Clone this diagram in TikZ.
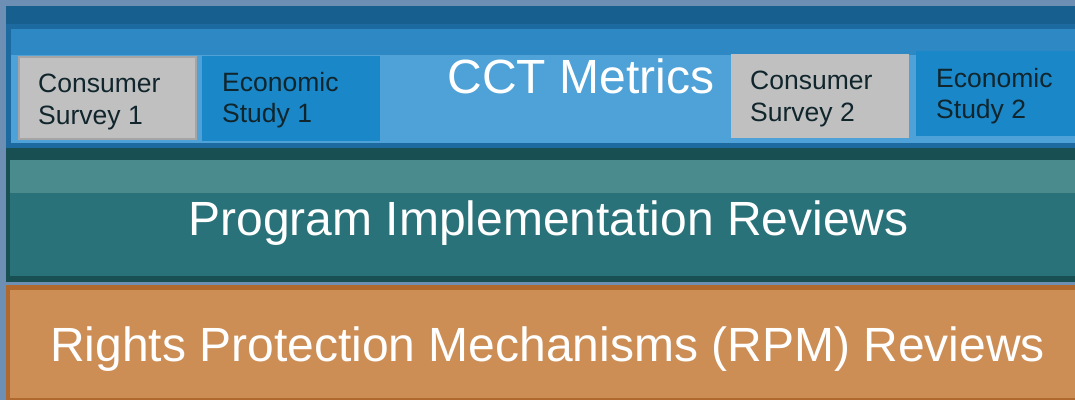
\documentclass[tikz,border=0pt]{standalone}
\usepackage{fontspec}
\setmainfont{Liberation Sans}
\definecolor{bgblue}{HTML}{6E8FB4}
\definecolor{topband}{HTML}{165F8E}
\definecolor{cctframe}{HTML}{1C6AA0}
\definecolor{cctlight}{HTML}{4EA2D7}
\definecolor{cctbar}{HTML}{2D88C3}
\definecolor{econblue}{HTML}{1A87C9}
\definecolor{surveygray}{HTML}{C0C0C0}
\definecolor{surveyedge}{HTML}{A5A5A5}
\definecolor{tealdark}{HTML}{174F52}
\definecolor{tealmain}{HTML}{2A727A}
\definecolor{teallight}{HTML}{4A8B8E}
\definecolor{orangeedge}{HTML}{AF692E}
\definecolor{orangemain}{HTML}{CD8E55}
\definecolor{darktext}{HTML}{10252C}
\begin{document}
\begin{tikzpicture}[x=1pt,y=-1pt,
  survey/.style={fill=surveygray,anchor=north west,inner sep=0,outer sep=0},
  econ/.style={fill=econblue,anchor=north west,inner sep=0,outer sep=0},
  smalltxt/.style={anchor=west,align=left,inner sep=0,text=darktext,
    font=\fontsize{26.5}{31.5}\selectfont},
  bigtxt/.style={anchor=base,inner sep=0,text=white,
    font=\fontsize{48}{56}\selectfont}]
\useasboundingbox (0,0) rectangle (1075,400);
\fill[bgblue] (0,0) rectangle (1075,400);
\fill[topband] (6,6) rectangle (1075,24);
\fill[cctframe] (6,24) rectangle (1075,148);
\fill[cctlight] (11,29) rectangle (1075,143);
\fill[cctbar] (11,29) rectangle (1075,55);
\fill[tealdark] (6,148) rectangle (1075,282);
\fill[tealmain] (10,160) rectangle (1075,276);
\fill[teallight] (10,160) rectangle (1075,193);
\fill[orangeedge] (6,285) rectangle (1075,400);
\fill[orangemain] (10,290) rectangle (1075,398);
\node[survey,draw=surveyedge,line width=2pt,minimum width=177,minimum height=82] (cs1) at (19,57) {};
\node[econ,minimum width=178,minimum height=85] (es1) at (202,56) {};
\node[survey,minimum width=178,minimum height=84] (cs2) at (731,54) {};
\node[econ,minimum width=170,minimum height=85] (es2) at (916,51) {};
\node[smalltxt] (cs1txt) at (38,101.8) {Consumer\\Survey 1};
\node[smalltxt] (es1txt) at (222,100.3) {Economic\\Study 1};
\node[smalltxt] (cs2txt) at (750,99) {Consumer\\Survey 2};
\node[smalltxt] (es2txt) at (936,96.3) {Economic\\Study 2};
\node[bigtxt] (cct) at (581,93.3) {CCT Metrics};
\node[bigtxt] (pir) at (548.5,235) {Program Implementation Reviews};
\node[bigtxt] (rpm) at (547.5,361.7) {Rights Protection Mechanisms (RPM) Reviews};
\end{tikzpicture}
\end{document}
